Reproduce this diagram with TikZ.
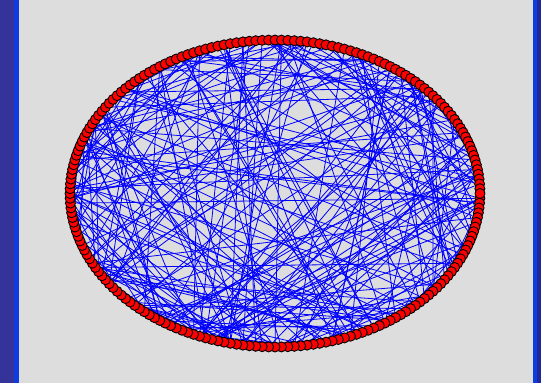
\documentclass[tikz,border=0pt]{standalone}
\usetikzlibrary{backgrounds}
\definecolor{bggray}{RGB}{221,221,221}
\definecolor{frameblue}{RGB}{51,51,153}
\definecolor{brightblue}{RGB}{15,60,225}
\definecolor{rightdark}{RGB}{30,40,150}
\definecolor{edgeblue}{RGB}{0,0,255}
\pgfdeclarelayer{bottomlayer}
\pgfdeclarelayer{edgelayer}
\pgfsetlayers{bottomlayer,edgelayer,main}
\tikzset{
  vtx/.style={circle,draw=black,fill=red,line width=0.9pt,inner sep=0pt,minimum size=10pt},
  edge/.style={draw=edgeblue,line width=0.8pt}
}
\begin{document}
\begin{tikzpicture}[x=1pt,y=-1pt]
\useasboundingbox (0,0) rectangle (541,383);
\begin{pgfonlayer}{bottomlayer}
  \fill[bggray] (0,0) rectangle (541,383);
  \fill[frameblue] (0,0) rectangle (14,383);
  \fill[brightblue] (14,0) rectangle (19,383);
  \fill[brightblue] (533,0) rectangle (537,383);
  \fill[rightdark] (537,0) rectangle (541,383);
\end{pgfonlayer}
\foreach \i in {1,...,200}{
  \node[vtx] (n\i) at ({275+205*cos(\i*1.8)},{193.5+153.5*sin(\i*1.8)}) {};
}
\pgfmathsetseed{20240}
\begin{pgfonlayer}{edgelayer}
\foreach \k in {1,...,260}{
  \pgfmathrandominteger{\a}{1}{200}
  \pgfmathrandominteger{\d}{1}{199}
  \pgfmathtruncatemacro{\b}{mod(\a+\d-1,200)+1}
  \draw[edge] (n\a) -- (n\b);
}
\end{pgfonlayer}
\end{tikzpicture}
\end{document}
